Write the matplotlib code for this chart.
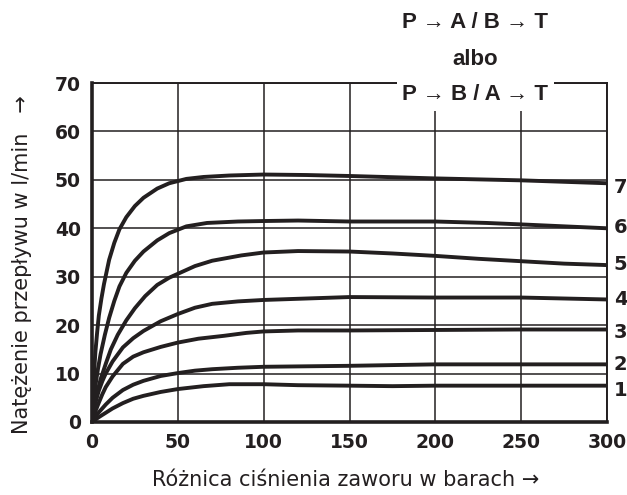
import matplotlib
matplotlib.use("Agg")
import matplotlib.pyplot as plt

# pressure difference (bar) -> flow (l/min)
x7 = [0, 0.5, 1, 2, 3, 4, 5.5, 7, 10, 13, 16, 20, 25, 30, 38, 45, 55, 65, 80, 100, 125, 150, 200, 250, 300]
y7 = [0, 5, 9, 14.5, 18.5, 22, 25.5, 28.5, 33.5, 37, 39.8, 42.3, 44.6, 46.3, 48.2, 49.3, 50.2, 50.6, 50.9, 51.1, 51, 50.8, 50.3, 49.9, 49.3]

x6 = [0, 1, 2, 3.5, 5, 7.5, 10, 13, 16, 20, 25, 30, 38, 45, 55, 67, 85, 100, 120, 150, 200, 230, 250, 275, 300]
y6 = [0, 4, 7.5, 11, 14, 18, 21.5, 25, 28, 30.8, 33.3, 35.2, 37.5, 39, 40.4, 41.1, 41.4, 41.5, 41.6, 41.4, 41.4, 41.1, 40.8, 40.4, 40]

x5 = [0, 1.5, 3, 5, 8, 11, 15, 20, 25, 31, 38, 45, 50, 60, 70, 87, 100, 120, 150, 175, 200, 225, 250, 275, 300]
y5 = [0, 3.5, 6, 8.8, 12, 15, 18, 21, 23.5, 26, 28.3, 29.8, 30.6, 32.2, 33.3, 34.4, 35, 35.3, 35.2, 34.8, 34.3, 33.7, 33.2, 32.7, 32.4]

x4 = [0, 1, 2, 4, 6, 8, 12, 18, 24, 30, 40, 50, 60, 70, 85, 100, 150, 200, 250, 300]
y4 = [0, 2.3, 4, 6.5, 8.4, 10, 12.5, 15.4, 17.3, 18.8, 20.8, 22.3, 23.6, 24.4, 24.9, 25.2, 25.8, 25.7, 25.7, 25.3]

x3 = [0, 2, 4, 6, 8, 12, 18, 24, 30, 40, 50, 62, 77, 90, 100, 120, 150, 200, 250, 300]
y3 = [0, 2.2, 4, 5.7, 7.2, 9.4, 12, 13.5, 14.4, 15.5, 16.4, 17.2, 17.8, 18.4, 18.7, 18.9, 18.9, 19, 19.1, 19.1]

x2 = [0, 2, 4, 8, 12, 18, 24, 30, 40, 50, 60, 70, 85, 100, 150, 200, 250, 300]
y2 = [0, 1.1, 2, 3.6, 5, 6.6, 7.7, 8.5, 9.5, 10.1, 10.6, 10.9, 11.2, 11.4, 11.6, 11.9, 11.9, 11.9]

x1 = [0, 4, 8, 12, 18, 24, 30, 40, 50, 65, 80, 100, 120, 150, 175, 200, 250, 300]
y1 = [0, 1, 1.9, 2.8, 3.9, 4.8, 5.4, 6.2, 6.8, 7.4, 7.8, 7.8, 7.6, 7.5, 7.4, 7.5, 7.5, 7.5]

curves = [(x1, y1), (x2, y2), (x3, y3), (x4, y4), (x5, y5), (x6, y6), (x7, y7)]
curve_labels = ["1", "2", "3", "4", "5", "6", "7"]
label_y = [6.6, 11.8, 18.4, 25.2, 32.6, 40.1, 48.5]

xticks = [0, 50, 100, 150, 200, 250, 300]
yticks = [0, 10, 20, 30, 40, 50, 60, 70]

ink = "#231f20"

fig = plt.figure(figsize=(6.27, 4.95), dpi=100)
ax = fig.add_axes([0.1467, 0.1475, 0.8215, 0.6848])

for xs, ys in curves:
    ax.plot(xs, ys, color=ink, lw=2.8, solid_capstyle="round",
            solid_joinstyle="round", zorder=3)

ax.set_xlim(0, 300)
ax.set_ylim(0, 70)
ax.set_xticks(xticks)
ax.set_yticks(yticks)
ax.grid(True, color=ink, lw=1.1)
ax.tick_params(length=0, pad=8, labelsize=13.5, colors=ink)
for lab in ax.get_xticklabels() + ax.get_yticklabels():
    lab.set_fontweight("bold")

for side in ["left", "bottom"]:
    ax.spines[side].set_linewidth(2.6)
for side in ["top", "right"]:
    ax.spines[side].set_linewidth(1.4)
for sp in ax.spines.values():
    sp.set_color(ink)

ax.set_xlabel("Różnica ciśnienia zaworu w barach →", fontsize=15, color=ink)
ax.set_ylabel("Natężenie przepływu w l/min   →", fontsize=15, color=ink)
ax.xaxis.set_label_coords(0.493, -0.142)
ax.yaxis.set_label_coords(-0.117, 0.465)

for lab, yv in zip(curve_labels, label_y):
    ax.text(304, yv, lab, fontsize=14, fontweight="bold", color=ink,
            ha="left", va="center", clip_on=False)

tfont = dict(family="Liberation Sans", fontsize=16, fontweight="bold", color=ink,
             ha="center", va="baseline")
fig.text(0.758, 0.9434, "P → A / B → T", **tfont)
fig.text(0.758, 0.8687, "albo", **tfont)
fig.text(0.758, 0.798, "P → B / A → T",
         bbox=dict(facecolor="white", edgecolor="none", pad=4), zorder=5, **tfont)

fig.savefig("out.png", dpi=100)
